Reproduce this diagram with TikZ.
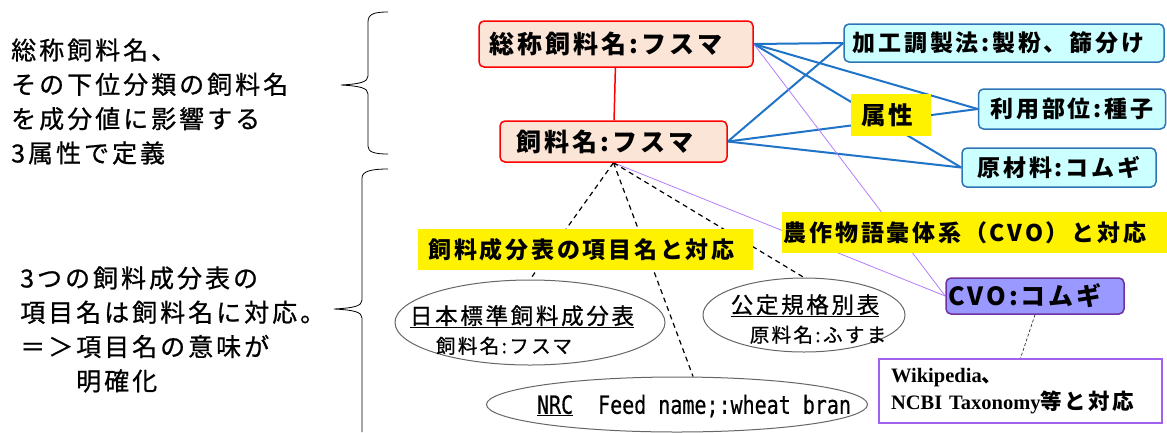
\documentclass[tikz,border=0pt]{standalone}
\usepackage{fontspec}
\setmainfont{Liberation Serif}
\newfontfamily\jp[LetterSpace=12]{Noto Sans CJK JP}
\newfontfamily\jpr[LetterSpace=12, FakeBold=0.8]{Noto Sans CJK JP}
\newfontfamily\jpn{Noto Sans CJK JP}
\newfontfamily\monof[FakeStretch=0.8, FakeBold=0.5]{DejaVu Sans Mono}
\usetikzlibrary{shapes.geometric}
\pgfdeclarelayer{bg}
\pgfsetlayers{bg,main}
\definecolor{peach}{HTML}{FBE5D6}
\definecolor{cyanf}{HTML}{CCFFFF}
\definecolor{blueb}{HTML}{2E75B6}
\definecolor{bluel}{HTML}{1F74C8}
\definecolor{cvof}{HTML}{9999FF}
\definecolor{cvob}{HTML}{7030A0}
\definecolor{purl}{HTML}{B57CFF}
\definecolor{wikib}{HTML}{A060F0}
\tikzset{
  redbox/.style={draw=red, line width=1.5pt, fill=peach, rounded corners=5pt, inner sep=0pt,
    font=\jp\bfseries\fontsize{25}{30}\selectfont},
  bluebox/.style={draw=blueb, line width=1.5pt, fill=cyanf, rounded corners=5pt, inner sep=0pt,
    font=\jp\bfseries\fontsize{23}{28}\selectfont},
  ybox/.style={fill=yellow, inner sep=0pt, font=\jp\bfseries\fontsize{23}{28}\selectfont},
  cvobox/.style={draw=cvob, line width=1.5pt, fill=cvof, rounded corners=5pt, inner sep=0pt,
    font=\jp\bfseries\fontsize{25}{30}\selectfont},
  ell/.style={ellipse, draw=black!60, line width=1pt, fill=white, inner sep=0pt},
  etxt/.style={align=center, inner sep=0pt, font=\jpr\fontsize{22.5}{29}\selectfont},
  lefttxt/.style={align=left, anchor=west, inner sep=0pt, font=\jpr\fontsize{25}{34.3}\selectfont},
  bline/.style={draw=bluel, line width=2pt},
  pline/.style={draw=purl, line width=0.8pt},
  dline/.style={draw=black, line width=1.2pt, dash pattern=on 5pt off 4pt},
  bracestyle/.style={draw=black, line width=0.8pt},
}
\begin{document}
\begin{tikzpicture}[x=1pt, y=-1pt]
\useasboundingbox (0,0) rectangle (1167,432);
% left texts
\node[lefttxt] (t1) at (11,101.5) {総称飼料名、\\その下位分類の飼料名\\を成分値に影響する\\3属性で定義};
\node[lefttxt] (t2) at (20,329.5) {3つの飼料成分表の\\項目名は飼料名に対応。\\＝＞項目名の意味が\\　　明確化};
% braces
\draw[bracestyle] (388,12) .. controls (374,12) and (368,14) .. (368,22) -- (368,76)
  .. controls (368,82) and (360,84) .. (341,85) .. controls (360,86) and (368,88) .. (368,94)
  -- (368,146) .. controls (368,152) and (374,154) .. (388,154);
\draw[bracestyle] (388,169) .. controls (372,169) and (362,171) .. (362,178) -- (362,300)
  .. controls (362,306) and (354,308) .. (334,309) .. controls (354,310) and (362,312) .. (362,318)
  -- (362,432);
% boxes
\node[redbox, minimum width=274pt, minimum height=46pt] (sg) at (616,44) {総称飼料名:フスマ\hspace*{20pt}};
\node[redbox, minimum width=227pt, minimum height=41pt] (fn) at (613.5,141.5) {飼料名:フスマ\hspace*{17pt}};
\node[bluebox, minimum width=320pt, minimum height=38pt] (kk) at (1004,43) {加工調製法:製粉、篩分け\hspace*{11pt}};
\node[bluebox, minimum width=187pt, minimum height=40pt] (ry) at (1072,109) {利用部位:種子};
\node[bluebox, minimum width=194pt, minimum height=39pt] (gz) at (1059,167.5) {原材料:コムギ};
\node[ybox, minimum width=80pt, minimum height=42pt, font=\jp\bfseries\fontsize{24.5}{28}\selectfont] (zs) at (891,115) {属性\hspace*{8pt}};
\node[ybox, minimum width=335pt, minimum height=41pt] (yk) at (585.5,249.5) {飼料成分表の項目名と対応\hspace*{8pt}};
\node[ybox, minimum width=385pt, minimum height=41pt] (nm) at (974.5,232.5) {農作物語彙体系（CVO）と対応\hspace*{19pt}};
\node[cvobox, minimum width=178pt, minimum height=36pt] (cvo) at (1035,296) {CVO:コムギ\hspace*{20pt}};
\node[draw=wikib, line width=1.5pt, fill=white, minimum width=283pt, minimum height=64pt,
  text width=259pt, align=left, inner sep=0pt, font=\bfseries\fontsize{20.5}{27}\selectfont] (wk) at (1020.5,391)
  {Wikipedia{\jpn\bfseries 、}\\NCBI Taxonomy{\jp\bfseries\fontsize{21.5}{27}\selectfont 等と対応}};
% ellipses
\node[ell, minimum width=270pt, minimum height=85pt] (jp) at (530,322.5) {};
\node[etxt] (jpt) at (522,330) {\underline{日本標準飼料成分表}\\{\fontsize{19.5}{29}\selectfont 飼料名:フスマ}\hspace*{36pt}};
\node[ell, minimum width=202pt, minimum height=74pt] (kt) at (804,315) {};
\node[etxt] (ktt) at (805,319) {\underline{公定規格別表}\\\hspace*{26pt}{\fontsize{19.5}{28}\selectfont 原料名:ふすま}};
\node[ell, minimum width=381pt, minimum height=55pt] (nrc) at (677,404.5) {};
\node[inner sep=0pt, font=\monof\fontsize{25}{30}\selectfont] (nrct) at (694,406) {\underline{NRC}\hspace{25pt}Feed name;:wheat bran};
% connectors
\begin{pgfonlayer}{bg}
\draw[draw=red, line width=1.5pt] (sg) -- (fn);
\foreach \s in {sg,fn}{
  \draw[bline] (\s.east) -- (kk.west);
  \draw[bline] (\s.east) -- (ry.west);
  \draw[bline] (\s.east) -- (gz.west);
}
\draw[pline] (sg.east) -- (cvo.west);
\draw[pline] (fn.south) -- (cvo.west);
\draw[dline] (fn.south) -- (jp.north);
\draw[dline] (fn.south) -- (nrc.60);
\draw[dline] (fn.south) -- (kt.north);
\draw[draw=black!80, line width=0.7pt, dash pattern=on 3pt off 2pt] (cvo.south) -- (wk.north);
\end{pgfonlayer}
\end{tikzpicture}
\end{document}
